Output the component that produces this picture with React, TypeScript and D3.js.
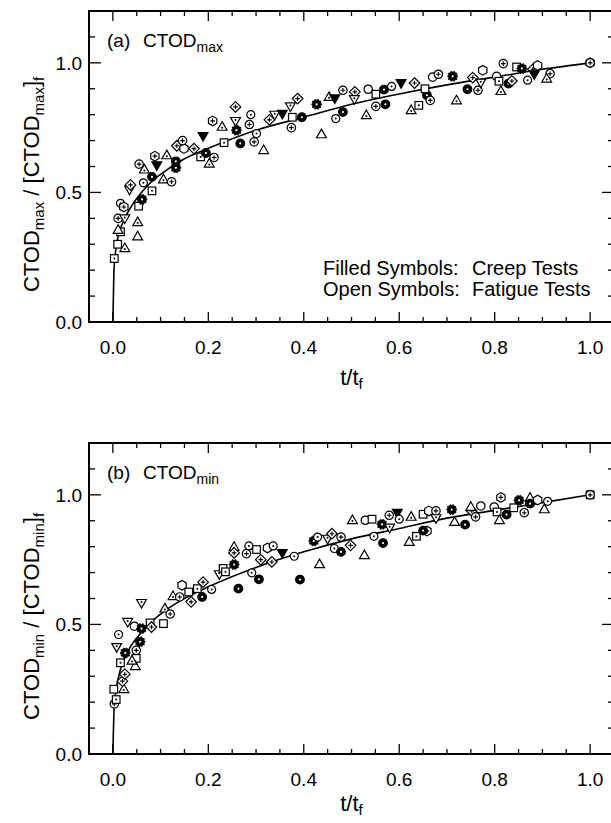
import React from "react";
import * as d3 from "d3";

type Pt = [string, number, number];

// x-axis ticks / labels
const xMajorTicks = [0, 0.2, 0.4, 0.6, 0.8, 1.0];
const xTickLabels = ["0.0", "0.2", "0.4", "0.6", "0.8", "1.0"];
const yMajorTicks = [0, 0.5, 1.0];
const yTickLabels = ["0.0", "0.5", "1.0"];

// fitted curve (panel a)
const maxCurveX = [0, 0.002, 0.005, 0.01, 0.02, 0.04, 0.06, 0.08, 0.1, 0.15, 0.2, 0.3, 0.4, 0.5, 0.6, 0.7, 0.8, 0.9, 1.0];
const maxCurveY = [0, 0.18, 0.26, 0.32, 0.38, 0.45, 0.5, 0.54, 0.57, 0.63, 0.67, 0.74, 0.79, 0.84, 0.88, 0.915, 0.945, 0.975, 1.0];

// fitted curve (panel b)
const minCurveX = [0, 0.003, 0.007, 0.015, 0.03, 0.06, 0.1, 0.15, 0.2, 0.3, 0.4, 0.5, 0.6, 0.7, 0.8, 0.9, 1.0];
const minCurveY = [0, 0.19, 0.25, 0.32, 0.39, 0.47, 0.54, 0.6, 0.645, 0.72, 0.78, 0.83, 0.87, 0.91, 0.94, 0.97, 1.0];

// panel (a) data: [symbol, t/tf, CTODmax ratio]
const maxPoints: Pt[] = [
  ["sqDot", 0.003, 0.245], ["sqOpen", 0.01, 0.3], ["triDot", 0.025, 0.285], ["triOpen", 0.052, 0.33],
  ["triDot", 0.052, 0.385], ["sqDot", 0.016, 0.348], ["triOpen", 0.011, 0.355], ["circPlus", 0.011, 0.4],
  ["triDownDot", 0.025, 0.4], ["circDot", 0.016, 0.458], ["hexPlus", 0.023, 0.444], ["sqOpen", 0.054, 0.447],
  ["gearFill", 0.061, 0.473], ["sqDot", 0.082, 0.506], ["triDownDot", 0.035, 0.511], ["diaPlus", 0.037, 0.529],
  ["circDot", 0.064, 0.537], ["circFill", 0.082, 0.56], ["triDot", 0.106, 0.55], ["circPlus", 0.123, 0.541],
  ["gearFill", 0.132, 0.595], ["circFill", 0.132, 0.62], ["hexPlus", 0.088, 0.64], ["circPlus", 0.055, 0.609],
  ["triDownFill", 0.092, 0.605], ["triDot", 0.066, 0.588], ["triDot", 0.113, 0.643], ["sqDot", 0.184, 0.637],
  ["circPlus", 0.212, 0.635], ["triDot", 0.202, 0.611], ["circFill", 0.195, 0.652], ["triOpen", 0.316, 0.663],
  ["diaPlus", 0.257, 0.83], ["circDot", 0.289, 0.8], ["triDownDot", 0.257, 0.776], ["circPlus", 0.286, 0.762],
  ["hexPlus", 0.209, 0.776], ["triDot", 0.229, 0.753], ["gearFill", 0.259, 0.74], ["triDownFill", 0.189, 0.718],
  ["sqDot", 0.233, 0.692], ["circFill", 0.267, 0.689], ["circPlus", 0.296, 0.695], ["diaPlus", 0.134, 0.68],
  ["hexOpen", 0.149, 0.669], ["circPlus", 0.146, 0.7], ["diaPlus", 0.17, 0.669], ["circDot", 0.301, 0.727],
  ["triDownFill", 0.355, 0.804], ["triDownDot", 0.339, 0.8], ["diaPlus", 0.328, 0.78], ["sqOpen", 0.376, 0.79],
  ["circFill", 0.396, 0.79], ["circPlus", 0.374, 0.75], ["gearFill", 0.427, 0.84], ["triOpen", 0.437, 0.724],
  ["circDot", 0.467, 0.785], ["circFill", 0.482, 0.81], ["circPlus", 0.482, 0.894], ["diaPlus", 0.507, 0.888],
  ["triDownDot", 0.506, 0.86], ["triDot", 0.453, 0.868], ["triDownFill", 0.465, 0.863], ["diaPlus", 0.387, 0.862],
  ["triDownDot", 0.372, 0.832], ["triDot", 0.531, 0.798], ["circPlus", 0.551, 0.832], ["circFill", 0.571, 0.84],
  ["circOpen", 0.535, 0.898], ["sqOpen", 0.551, 0.879], ["circFill", 0.568, 0.897], ["circDot", 0.584, 0.909],
  ["triDownFill", 0.604, 0.922], ["diaPlus", 0.632, 0.922], ["triDot", 0.625, 0.817], ["sqDot", 0.641, 0.836],
  ["circFill", 0.658, 0.875], ["sqOpen", 0.654, 0.9], ["circPlus", 0.665, 0.855], ["circOpen", 0.67, 0.945],
  ["circPlus", 0.682, 0.956], ["gearFill", 0.712, 0.948], ["triDot", 0.72, 0.855], ["circFill", 0.743, 0.898],
  ["circPlus", 0.765, 0.894], ["diaPlus", 0.754, 0.943], ["triDownDot", 0.771, 0.924], ["hexOpen", 0.775, 0.971],
  ["circOpen", 0.804, 0.948], ["sqDot", 0.809, 0.929], ["triDot", 0.813, 0.891], ["circFill", 0.829, 0.92],
  ["diaPlus", 0.836, 0.93], ["circPlus", 0.818, 0.997], ["sqOpen", 0.846, 0.984], ["gearFill", 0.857, 0.978],
  ["diaPlus", 0.88, 0.975], ["hexOpen", 0.89, 0.99], ["triDownFill", 0.883, 0.956], ["circDot", 0.869, 0.933],
  ["circPlus", 0.916, 0.958], ["triDot", 0.909, 0.939], ["hexOpen", 1.0, 1.0], ["circPlus", 1.0, 1.0],
];

// panel (b) data: [symbol, t/tf, CTODmin ratio]
const minPoints: Pt[] = [
  ["circPlus", 0.003, 0.193], ["sqDot", 0.007, 0.21], ["sqOpen", 0.002, 0.25], ["triDot", 0.023, 0.25],
  ["diaPlus", 0.02, 0.281], ["diaPlus", 0.025, 0.308], ["sqDot", 0.016, 0.352], ["triDownDot", 0.008, 0.413],
  ["circDot", 0.012, 0.461], ["triDownDot", 0.031, 0.51], ["circOpen", 0.045, 0.493], ["sqOpen", 0.078, 0.506],
  ["sqOpen", 0.106, 0.503], ["diaPlus", 0.081, 0.49], ["gearFill", 0.06, 0.484], ["gearFill", 0.057, 0.433],
  ["circPlus", 0.049, 0.4], ["sqOpen", 0.049, 0.369], ["triOpen", 0.047, 0.339], ["triDot", 0.04, 0.36],
  ["gearFill", 0.026, 0.39], ["triDownDot", 0.06, 0.583], ["triDot", 0.109, 0.561], ["circPlus", 0.12, 0.54],
  ["hexOpen", 0.145, 0.651], ["sqOpen", 0.159, 0.625], ["triDot", 0.126, 0.609], ["circPlus", 0.14, 0.606],
  ["diaPlus", 0.164, 0.587], ["sqDot", 0.177, 0.638], ["diaPlus", 0.189, 0.663], ["circDot", 0.207, 0.635],
  ["circFill", 0.187, 0.606], ["triDot", 0.254, 0.799], ["diaPlus", 0.254, 0.776], ["gearFill", 0.254, 0.731],
  ["triDownDot", 0.223, 0.694], ["sqOpen", 0.231, 0.716], ["sqDot", 0.236, 0.703], ["circFill", 0.263, 0.638],
  ["circPlus", 0.28, 0.773], ["circDot", 0.285, 0.803], ["sqOpen", 0.301, 0.789], ["hexOpen", 0.324, 0.795],
  ["diaPlus", 0.31, 0.75], ["circDot", 0.336, 0.803], ["circDot", 0.291, 0.699], ["circFill", 0.306, 0.674],
  ["diaPlus", 0.333, 0.741], ["triDownFill", 0.355, 0.776], ["circDot", 0.38, 0.763], ["circFill", 0.392, 0.673],
  ["triOpen", 0.433, 0.732], ["gearFill", 0.421, 0.822], ["triDownDot", 0.45, 0.831], ["circDot", 0.429, 0.837],
  ["diaPlus", 0.459, 0.85], ["circPlus", 0.478, 0.837], ["circDot", 0.464, 0.793], ["circFill", 0.478, 0.78],
  ["diaPlus", 0.498, 0.805], ["triOpen", 0.527, 0.767], ["triDot", 0.502, 0.902], ["circOpen", 0.529, 0.902],
  ["sqOpen", 0.543, 0.906], ["gearFill", 0.564, 0.886], ["triDownDot", 0.58, 0.874], ["circPlus", 0.579, 0.921],
  ["triDownFill", 0.596, 0.931], ["circDot", 0.6, 0.906], ["triDot", 0.625, 0.915], ["sqOpen", 0.65, 0.925],
  ["hexOpen", 0.662, 0.938], ["circPlus", 0.677, 0.938], ["triDownDot", 0.677, 0.91], ["circDot", 0.547, 0.84],
  ["circFill", 0.566, 0.814], ["triOpen", 0.621, 0.818], ["sqDot", 0.636, 0.84], ["hexPlus", 0.658, 0.86],
  ["circFill", 0.65, 0.862], ["gearFill", 0.71, 0.943], ["triOpen", 0.716, 0.895], ["circFill", 0.738, 0.885],
  ["diaPlus", 0.752, 0.938], ["triOpen", 0.75, 0.953], ["circPlus", 0.76, 0.915], ["circOpen", 0.771, 0.957],
  ["circOpen", 0.799, 0.953], ["sqDot", 0.805, 0.934], ["triOpen", 0.81, 0.902], ["circFill", 0.825, 0.924],
  ["hexPlus", 0.813, 0.99], ["sqOpen", 0.84, 0.95], ["gearFill", 0.851, 0.979], ["triOpen", 0.874, 0.988],
  ["hexOpen", 0.89, 0.98], ["circFill", 0.874, 0.966], ["circPlus", 0.862, 0.931], ["circDot", 0.911, 0.975],
  ["triOpen", 0.904, 0.944], ["sqOpen", 1.0, 1.0], ["circPlus", 1.0, 1.0],
];

const FONT = '"Liberation Sans", Arial, Helvetica, sans-serif';
const LEFT = 89;
const RIGHT = 614;

const xScale = d3.scaleLinear().domain([-0.05, 1.05]).range([LEFT, RIGHT]);

const plus = (s: number) => `M${-s},0H${s}M0,${-s}V${s}`;
const poly = (pts: [number, number][]) => pts.map((p) => p.join(",")).join(" ");
const hexPts = (r: number) =>
  d3.range(6).map((i) => [r * Math.cos((Math.PI / 3) * i + Math.PI / 6), r * Math.sin((Math.PI / 3) * i + Math.PI / 6)] as [number, number]);
const gearPts = (ro: number, ri: number) =>
  d3.range(20).map((i) => {
    const r = i % 2 === 0 ? ro : ri;
    const a = (Math.PI / 10) * i;
    return [r * Math.cos(a), r * Math.sin(a)] as [number, number];
  });

function Marker({ type, cx, cy }: { type: string; cx: number; cy: number }) {
  const sw = 1.2;
  const base = { fill: "white", stroke: "black", strokeWidth: sw };
  const dot = <circle r={1} fill="black" />;
  const pl = <path d={plus(2.3)} stroke="black" strokeWidth={1.1} fill="none" />;
  let content: React.ReactNode = null;
  switch (type) {
    case "circDot":
      content = (<><circle r={4} {...base} />{dot}</>);
      break;
    case "circPlus":
      content = (<><circle r={4.2} {...base} />{pl}</>);
      break;
    case "circOpen":
      content = <circle r={4.2} {...base} />;
      break;
    case "hexPlus":
      content = (<><polygon points={poly(hexPts(4.8))} {...base} />{pl}</>);
      break;
    case "hexOpen":
      content = <polygon points={poly(hexPts(4.8))} {...base} />;
      break;
    case "diaPlus":
      content = (<><polygon points={poly([[0, -5.3], [5.3, 0], [0, 5.3], [-5.3, 0]])} {...base} />{pl}</>);
      break;
    case "triDot":
      content = (<><polygon points={poly([[0, -5.2], [4.9, 3.4], [-4.9, 3.4]])} {...base} /><circle cy={0.8} r={1} fill="black" /></>);
      break;
    case "triOpen":
      content = <polygon points={poly([[0, -5.2], [4.9, 3.4], [-4.9, 3.4]])} {...base} />;
      break;
    case "triDownDot":
      content = (<><polygon points={poly([[0, 5.2], [4.9, -3.4], [-4.9, -3.4]])} {...base} /><circle cy={-0.8} r={1} fill="black" /></>);
      break;
    case "triDownFill":
      content = <polygon points={poly([[0, 5.2], [4.9, -3.4], [-4.9, -3.4]])} fill="black" stroke="black" strokeWidth={sw} />;
      break;
    case "sqDot":
      content = (<><rect x={-3.8} y={-3.8} width={7.6} height={7.6} {...base} />{dot}</>);
      break;
    case "sqOpen":
      content = <rect x={-3.8} y={-3.8} width={7.6} height={7.6} {...base} />;
      break;
    case "circFill":
      content = (<><circle r={4.3} fill="black" stroke="black" strokeWidth={sw} /><circle r={1.1} fill="white" /></>);
      break;
    case "gearFill":
      content = (<><polygon points={poly(gearPts(5.3, 4.1))} fill="black" stroke="black" strokeWidth={0.8} /><circle r={1.1} fill="white" /></>);
      break;
  }
  return <g transform={`translate(${cx},${cy})`}>{content}</g>;
}

function Panel({
  top, bottom, tag, sub, points, curveX, curveY, showLegend, titleGap,
}: {
  top: number; bottom: number; tag: string; sub: string; points: Pt[];
  curveX: number[]; curveY: number[]; showLegend: boolean; titleGap: number;
}) {
  const yScale = d3.scaleLinear().domain([0, 1.2]).range([bottom, top]);
  const xMinor = d3.range(0, 21).map((i) => i * 0.05);
  const yMinor = d3.range(0, 13).map((i) => i * 0.1);
  const isXMajor = (v: number) => Math.abs(v / 0.2 - Math.round(v / 0.2)) < 1e-6;
  const isYMajor = (v: number) => Math.abs(v / 0.5 - Math.round(v / 0.5)) < 1e-6;
  const line = d3
    .line<number>()
    .x((_, i) => xScale(curveX[i]))
    .y((d) => yScale(d))
    .curve(d3.curveMonotoneX);
  const subFs = 14;
  const titleSub = 15;
  const midTitle = yScale(0.5) - 8;
  return (
    <g>
      {xMinor.map((v, i) => {
        const L = isXMajor(v) ? 10 : 5;
        const X = xScale(v);
        return (
          <g key={"xt" + i} stroke="black" strokeWidth={1.3}>
            <line x1={X} x2={X} y1={bottom} y2={bottom - L} />
            <line x1={X} x2={X} y1={top} y2={top + L} />
          </g>
        );
      })}
      {yMinor.map((v, i) => {
        const L = isYMajor(v) ? 12 : 6;
        const Y = yScale(v);
        return (
          <g key={"yt" + i} stroke="black" strokeWidth={1.3}>
            <line x1={LEFT} x2={LEFT + L} y1={Y} y2={Y} />
            <line x1={RIGHT} x2={RIGHT - L} y1={Y} y2={Y} />
          </g>
        );
      })}
      <rect x={LEFT} y={top} width={RIGHT - LEFT} height={bottom - top} fill="none" stroke="black" strokeWidth={2} />
      {xMajorTicks.map((v, i) => (
        <text key={"xl" + i} x={xScale(v)} y={bottom + 32} fontSize={19} textAnchor="middle">
          {xTickLabels[i]}
        </text>
      ))}
      {yMajorTicks.map((v, i) => (
        <text key={"yl" + i} x={82} y={yScale(v) + 7} fontSize={19} textAnchor="end">
          {yTickLabels[i]}
        </text>
      ))}
      <text x={xScale(0.5)} y={bottom + titleGap} fontSize={22} textAnchor="middle">
        t/t<tspan fontSize={titleSub} dy={4}>f</tspan>
      </text>
      <text transform={`translate(39, ${midTitle}) rotate(-90)`} fontSize={22} textAnchor="middle">
        CTOD<tspan fontSize={titleSub} dy={5}>{sub}</tspan>
        <tspan dy={-5}> / [CTOD</tspan>
        <tspan fontSize={titleSub} dy={5}>{sub}</tspan>
        <tspan dy={-5}>]</tspan>
        <tspan fontSize={titleSub} dy={5}>f</tspan>
      </text>
      <text x={107} y={top + 36} fontSize={19}>{tag}</text>
      <text x={143} y={top + 36} fontSize={19}>
        CTOD<tspan fontSize={subFs} dy={5}>{sub}</tspan>
      </text>
      <path d={line(curveY) || ""} fill="none" stroke="black" strokeWidth={1.6} />
      {points.map((p, i) => (
        <Marker key={"p" + i} type={p[0]} cx={xScale(p[1])} cy={yScale(p[2])} />
      ))}
      {showLegend && (
        <g fontSize={20}>
          <text x={323} y={yScale(0.18)}>Filled Symbols:</text>
          <text x={472} y={yScale(0.18)}>Creep Tests</text>
          <text x={323} y={yScale(0.18) + 21}>Open Symbols:</text>
          <text x={472} y={yScale(0.18) + 21}>Fatigue Tests</text>
        </g>
      )}
    </g>
  );
}

export default function App() {
  return (
    <svg
      width={611}
      height={823}
      style={{ position: "absolute", left: 0, top: 0, background: "white" }}
      fontFamily={FONT}
    >
      <rect x={0} y={0} width={611} height={823} fill="white" />
      <Panel top={11} bottom={322} tag="(a)" sub="max" points={maxPoints} curveX={maxCurveX} curveY={maxCurveY} showLegend={true} titleGap={63} />
      <Panel top={443} bottom={754} tag="(b)" sub="min" points={minPoints} curveX={minCurveX} curveY={minCurveY} showLegend={false} titleGap={57} />
    </svg>
  );
}
